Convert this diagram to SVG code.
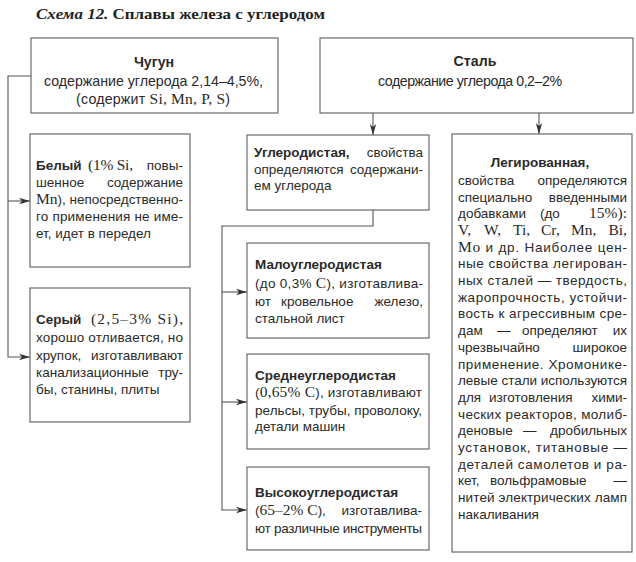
<svg xmlns="http://www.w3.org/2000/svg" width="636" height="562" viewBox="0 0 636 562">
<defs>
<style>
.box{fill:#fff;stroke:#6a6a6a;stroke-width:1.2}
.t{font-family:"Liberation Sans",Arial,sans-serif;font-size:13.5px;fill:#2a2a2a}
.h{font-size:14.2px}
.b{font-weight:bold}
.s{font-family:"Liberation Serif","Times New Roman",serif;font-size:15.5px}
.e{text-anchor:end}
.m{text-anchor:middle}
.ttl{font-family:"Liberation Serif","Times New Roman",serif;font-size:15.5px;font-weight:bold;fill:#222}
.c{fill:none;stroke:#555;stroke-width:1.1}
</style>
<marker id="arr" viewBox="0 0 11 7" refX="11" refY="3.5" markerWidth="11" markerHeight="7" markerUnits="userSpaceOnUse" orient="auto">
<path d="M0,0.3 L11,3.5 L0,6.7 L3,3.5 z" fill="#333"/>
</marker>
</defs>
<rect width="636" height="562" fill="#fff"/>

<text class="ttl" x="36" y="19" textLength="289" lengthAdjust="spacingAndGlyphs"><tspan font-style="italic">Схема 12.</tspan> Сплавы железа с углеродом</text>

<g id="connectors">
<path class="c" d="M31,76 H8 V357 H30" marker-end="url(#arr)"/>
<path class="c" d="M8,201 H30" marker-end="url(#arr)"/>
<path class="c" d="M373,113 V135" marker-end="url(#arr)"/>
<path class="c" d="M539,113 V134" marker-end="url(#arr)"/>
<path class="c" d="M373,210 V226 H222 V510 H247" marker-end="url(#arr)"/>
<path class="c" d="M222,292 H247" marker-end="url(#arr)"/>
<path class="c" d="M222,402 H247" marker-end="url(#arr)"/>
</g>

<g id="chugun">
<rect class="box" x="31" y="38" width="247" height="75"/>
<text class="t h b m" x="154" y="67">Чугун</text>
<text class="t h m" x="153.5" y="86" textLength="219">содержание углерода 2,14–4,5%,</text>
<text class="t h m" x="153" y="104" textLength="154">(содержит <tspan class="s">Si, Mn, P, S</tspan>)</text>
</g>

<g id="stal">
<rect class="box" x="320" y="38" width="313" height="75"/>
<text class="t h b m" x="475" y="66">Сталь</text>
<text class="t h m" x="470" y="86" textLength="184">содержание углерода 0,2–2%</text>
</g>

<g id="bely">
<rect class="box" x="30" y="134" width="160" height="133"/>
<text class="t b" x="36" y="170">Белый</text>
<text class="t s" x="88" y="170" textLength="45">(1% Si,</text>
<text class="t e" x="183" y="170">повы-</text>
<text class="t" x="36" y="187">шенное</text>
<text class="t e" x="183" y="187">содержание</text>
<text class="t" x="36" y="204" textLength="147"><tspan class="s">Mn</tspan>), непосредственно-</text>
<text class="t" x="36" y="221" textLength="147">го применения не име-</text>
<text class="t" x="36" y="238">ет, идет в передел</text>
</g>

<g id="sery">
<rect class="box" x="30" y="288" width="160" height="134"/>
<text class="t b" x="36" y="324">Серый</text>
<text class="t s" x="91" y="324" textLength="92">(2,5–3% Si),</text>
<text class="t" x="36" y="342" textLength="147">хорошо отливается, но</text>
<text class="t" x="36" y="360">хрупок,</text>
<text class="t e" x="183" y="360">изготавливают</text>
<text class="t" x="36" y="377">канализационные</text>
<text class="t e" x="183" y="377">тру-</text>
<text class="t" x="36" y="394">бы, станины, плиты</text>
</g>

<g id="uglerodistaya">
<rect class="box" x="247" y="135" width="182" height="75"/>
<text class="t b" x="254" y="157">Углеродистая,</text>
<text class="t e" x="423" y="157">свойства</text>
<text class="t" x="254" y="174">определяются</text>
<text class="t e" x="423" y="174">содержани-</text>
<text class="t" x="254" y="190">ем углерода</text>
</g>

<g id="malo">
<rect class="box" x="247" y="243" width="182" height="95"/>
<text class="t b" x="255" y="269">Малоуглеродистая</text>
<text class="t" x="255" y="288" textLength="168">(до 0,3% <tspan class="s">C</tspan>), изготавлива-</text>
<text class="t" x="255" y="306">ют</text>
<text class="t" x="281" y="306">кровельное</text>
<text class="t e" x="423" y="306">железо,</text>
<text class="t" x="255" y="323">стальной лист</text>
</g>

<g id="sredne">
<rect class="box" x="247" y="354" width="182" height="95"/>
<text class="t b" x="255" y="380">Среднеуглеродистая</text>
<text class="t" x="255" y="397" textLength="167">(<tspan class="s">0,65% C</tspan>), изготавливают</text>
<text class="t" x="255" y="415" textLength="167">рельсы, трубы, проволоку,</text>
<text class="t" x="255" y="431">детали машин</text>
</g>

<g id="vysoko">
<rect class="box" x="247" y="467" width="182" height="83"/>
<text class="t b" x="255" y="497">Высокоуглеродистая</text>
<text class="t" x="255" y="515">(<tspan class="s">65–2% C</tspan>),</text>
<text class="t e" x="422" y="515">изготавлива-</text>
<text class="t" x="255" y="533" textLength="167">ют различные инструменты</text>
</g>

<g id="legirovannaya">
<rect class="box" x="452" y="134" width="180" height="418"/>
<text class="t b m" x="540" y="167">Легированная,</text>
<text class="t" x="458" y="185">свойства</text>
<text class="t e" x="627" y="185">определяются</text>
<text class="t" x="458" y="201.5">специально</text>
<text class="t e" x="627" y="201.5">введенными</text>
<text class="t" x="458" y="218">добавками</text>
<text class="t" x="540" y="218">(до</text>
<text class="t s e" x="627" y="218">15%):</text>
<text class="t s" x="458" y="235">V,</text>
<text class="t s" x="484" y="235">W,</text>
<text class="t s" x="513" y="235">Ti,</text>
<text class="t s" x="541" y="235">Cr,</text>
<text class="t s" x="571" y="235">Mn,</text>
<text class="t s e" x="627" y="235">Bi,</text>
<text class="t" x="458" y="251.5" textLength="169"><tspan class="s">Mo</tspan> и др. Наиболее цен-</text>
<text class="t" x="458" y="268" textLength="169">ные свойства легирован-</text>
<text class="t" x="458" y="285" textLength="169">ных сталей — твердость,</text>
<text class="t" x="458" y="301.5" textLength="169">жаропрочность, устойчи-</text>
<text class="t" x="458" y="318" textLength="169">вость к агрессивным сре-</text>
<text class="t" x="458" y="335">дам</text>
<text class="t" x="497" y="335">—</text>
<text class="t" x="522" y="335">определяют</text>
<text class="t e" x="627" y="335">их</text>
<text class="t" x="458" y="352">чрезвычайно</text>
<text class="t e" x="627" y="352">широкое</text>
<text class="t" x="458" y="368.5" textLength="169">применение. Хромонике-</text>
<text class="t" x="458" y="385" textLength="169">левые стали используются</text>
<text class="t" x="458" y="402">для</text>
<text class="t" x="489" y="402">изготовления</text>
<text class="t e" x="627" y="402">хими-</text>
<text class="t" x="458" y="418.5" textLength="169">ческих реакторов, молиб-</text>
<text class="t" x="458" y="435">деновые</text>
<text class="t" x="523" y="435">—</text>
<text class="t e" x="627" y="435">дробильных</text>
<text class="t" x="458" y="452" textLength="169">установок, титановые —</text>
<text class="t" x="458" y="468.5" textLength="169">деталей самолетов и ра-</text>
<text class="t" x="458" y="485">кет,</text>
<text class="t" x="490" y="485">вольфрамовые</text>
<text class="t e" x="627" y="485">—</text>
<text class="t" x="458" y="502" textLength="169">нитей электрических ламп</text>
<text class="t" x="458" y="518.5">накаливания</text>
</g>
</svg>
